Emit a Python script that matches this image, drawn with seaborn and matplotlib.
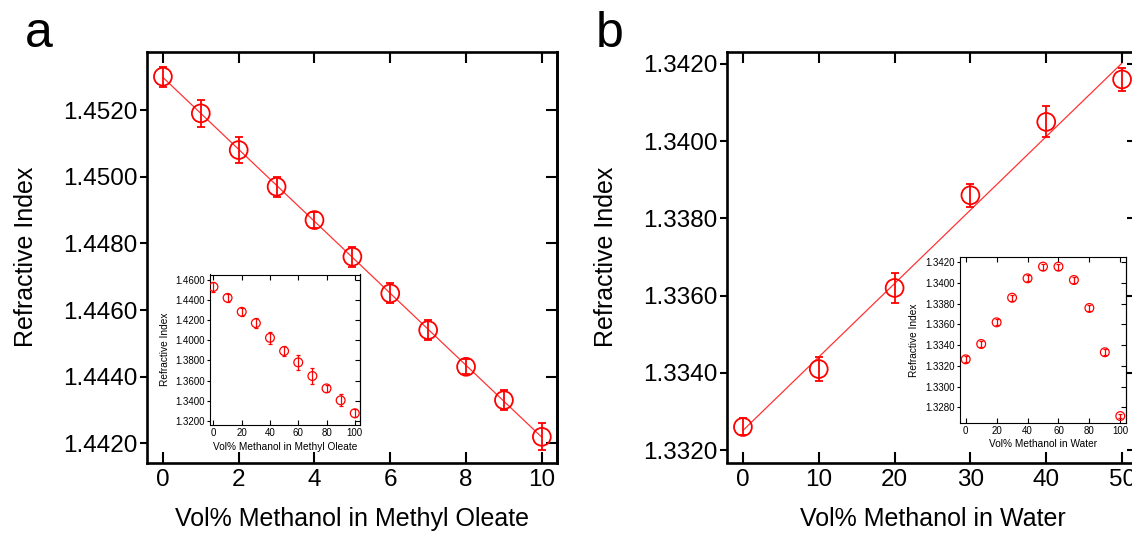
import numpy as np
import pandas as pd
import matplotlib
matplotlib.use("Agg")
import matplotlib.pyplot as plt
from matplotlib.ticker import FormatStrFormatter
import seaborn as sns

# --- data -----------------------------------------------------------------
# Methyl oleate / methanol blends, low-methanol range
oleate_pct = [0, 1, 2, 3, 4, 5, 6, 7, 8, 9, 10]
oleate_ri = [1.4530, 1.4519, 1.4508, 1.4497, 1.4487, 1.4476,
             1.4465, 1.4454, 1.4443, 1.4433, 1.4422]
oleate_err = [0.0003, 0.0004, 0.0004, 0.0003, 0.00025, 0.0003,
              0.0003, 0.0003, 0.00022, 0.0003, 0.0004]

# Methyl oleate / methanol blends, full range
oleate_full_pct = [0, 10, 20, 30, 40, 50, 60, 70, 80, 90, 100]
oleate_full_ri = [1.4533, 1.4424, 1.4285, 1.4172, 1.4026, 1.3894,
                  1.3781, 1.3645, 1.3522, 1.3403, 1.3274]
oleate_full_err = [0.005, 0.004, 0.004, 0.0047, 0.006, 0.0053,
                   0.0075, 0.008, 0.0033, 0.006, 0.004]

# Water / methanol blends, 0-50 %
water_pct = [0, 10, 20, 30, 40, 50]
water_ri = [1.3326, 1.3341, 1.3362, 1.3386, 1.3405, 1.3416]
water_err = [0.00022, 0.0003, 0.0004, 0.0003, 0.0004, 0.0003]

# Water / methanol blends, full range
water_full_pct = [0, 10, 20, 30, 40, 50, 60, 70, 80, 90, 100]
water_full_ri = [1.33263, 1.33411, 1.3362, 1.33858, 1.34045, 1.34158,
                 1.34158, 1.34029, 1.33759, 1.33331, 1.32715]
water_full_err = [0.0003, 0.0003, 0.0003, 0.0003, 0.0003, 0.0003,
                  0.0003, 0.0003, 0.0003, 0.0003, 0.0002]

# tick positions / labels
a_xticks = [0, 2, 4, 6, 8, 10]
a_yticks = [1.4420, 1.4440, 1.4460, 1.4480, 1.4500, 1.4520]
ia_xticks = [0, 20, 40, 60, 80, 100]
ia_yticks = [1.32, 1.34, 1.36, 1.38, 1.40, 1.42, 1.44, 1.46]
b_xticks = [0, 10, 20, 30, 40, 50]
b_yticks = [1.3320, 1.3340, 1.3360, 1.3380, 1.3400, 1.3420]
ib_xticks = [0, 20, 40, 60, 80, 100]
ib_yticks = [1.328, 1.330, 1.332, 1.334, 1.336, 1.338, 1.340, 1.342]

YLABEL = "Refractive Index"
XLABEL_A = "Vol% Methanol in Methyl Oleate"
XLABEL_B = "Vol% Methanol in Water"

# --- style ----------------------------------------------------------------
sns.set_style("ticks")
plt.rcParams["font.family"] = ["Liberation Sans", "DejaVu Sans"]
plt.rcParams["axes.edgecolor"] = "black"
plt.rcParams["axes.labelcolor"] = "black"
plt.rcParams["text.color"] = "black"
plt.rcParams["xtick.color"] = "black"
plt.rcParams["ytick.color"] = "black"

RED = "#ff0000"

W, H = 1132, 533
fig = plt.figure(figsize=(W / 100, H / 100), dpi=100)


def px_axes(left, top, right, bottom):
    return fig.add_axes([left / W, 1 - bottom / H, (right - left) / W, (bottom - top) / H])


def style(ax, xticks, yticks, tick_fs, spine_lw, out_len, in_len, tick_w, xpad, ypad):
    ax.set_xticks(xticks)
    ax.set_yticks(yticks)
    ax.yaxis.set_major_formatter(FormatStrFormatter("%.4f"))
    ax.tick_params(axis="x", which="major", direction="in", top=True, bottom=True,
                   length=in_len, width=tick_w, labelsize=tick_fs, pad=xpad)
    ax.tick_params(axis="y", which="major", direction="out", left=True, right=False,
                   length=out_len, width=tick_w, labelsize=tick_fs, pad=ypad)
    ax.minorticks_off()
    for s in ax.spines.values():
        s.set_visible(True)
        s.set_linewidth(spine_lw)
    sec = ax.secondary_yaxis("right")
    sec.set_yticks(yticks)
    sec.tick_params(direction="in", length=in_len, width=tick_w, labelright=False)
    sec.spines["right"].set_linewidth(spine_lw)


def draw_points(ax, x, y, err, size, lw, cap):
    ax.errorbar(x, y, yerr=err, fmt="none", ecolor=RED, elinewidth=lw,
                capsize=cap, capthick=lw, zorder=3)
    sns.scatterplot(x=x, y=y, ax=ax, marker="o", s=size, color=RED,
                    facecolor="none", edgecolor=RED, linewidth=lw, zorder=4,
                    legend=False)


# --- panel a --------------------------------------------------------------
ax_a = px_axes(147, 52, 557, 462.5)
sns.regplot(x=np.array(oleate_pct), y=np.array(oleate_ri), ax=ax_a, scatter=False,
            ci=None, color=RED, line_kws=dict(lw=0.9, alpha=0.8))
draw_points(ax_a, oleate_pct, oleate_ri, oleate_err, 165, 1.3, 3.0)
ax_a.set_xlim(-0.42, 10.4)
ax_a.set_ylim(1.44143, 1.45374)
style(ax_a, a_xticks, a_yticks, 17.5, 1.9, 5, 8, 1.5, 5, 2)
ax_a.set_xlabel(XLABEL_A, fontsize=18)
ax_a.set_ylabel(YLABEL, fontsize=18)
ax_a.xaxis.set_label_coords(0.5, -0.108)
ax_a.yaxis.set_label_coords(-0.266, 0.5)

# inset a
ia = px_axes(209.5, 274.5, 360, 425)
ia.set_facecolor("white")
draw_points(ia, oleate_full_pct, oleate_full_ri, oleate_full_err, 40, 0.9, 1.5)
ia.set_xlim(-2.8, 103.7)
ia.set_ylim(1.31572, 1.46567)
style(ia, ia_xticks, ia_yticks, 7, 0.8, 2.5, 3.5, 0.8, 2, 1)
ia.set_xlabel(XLABEL_A, fontsize=7.3)
ia.set_ylabel(YLABEL, fontsize=7.3)
ia.xaxis.set_label_coords(0.5, -0.11)
ia.yaxis.set_label_coords(-0.262, 0.5)

# --- panel b --------------------------------------------------------------
ax_b = px_axes(727, 52, 1138, 462.5)
sns.regplot(x=np.array(water_pct), y=np.array(water_ri), ax=ax_b, scatter=False,
            ci=None, color=RED, line_kws=dict(lw=0.9, alpha=0.8))
draw_points(ax_b, water_pct, water_ri, water_err, 165, 1.3, 3.0)
ax_b.set_xlim(-2.1, 52.1)
ax_b.set_ylim(1.33168, 1.34231)
style(ax_b, b_xticks, b_yticks, 17.5, 1.9, 5, 8, 1.5, 5, 2)
ax_b.set_xlabel(XLABEL_B, fontsize=18)
ax_b.set_ylabel(YLABEL, fontsize=18)
ax_b.xaxis.set_label_coords(0.5, -0.108)
ax_b.yaxis.set_label_coords(-0.265, 0.5)

# inset b
ib = px_axes(960, 257, 1126, 423)
ib.set_facecolor("white")
draw_points(ib, water_full_pct, water_full_ri, water_full_err, 40, 0.9, 1.5)
ib.set_xlim(-3.7, 103.7)
ib.set_ylim(1.32648, 1.34251)
style(ib, ib_xticks, ib_yticks, 7, 0.8, 2.5, 3.5, 0.8, 2, 1)
ib.set_xlabel(XLABEL_B, fontsize=7.3)
ib.set_ylabel(YLABEL, fontsize=7.3)
ib.xaxis.set_label_coords(0.5, -0.095)
ib.yaxis.set_label_coords(-0.247, 0.5)

# panel letters
fig.text(25 / W, 1 - 46.7 / H, "a", fontsize=36, va="baseline", ha="left")
fig.text(596 / W, 1 - 46.7 / H, "b", fontsize=36, va="baseline", ha="left")

fig.savefig("out.png", dpi=100)
